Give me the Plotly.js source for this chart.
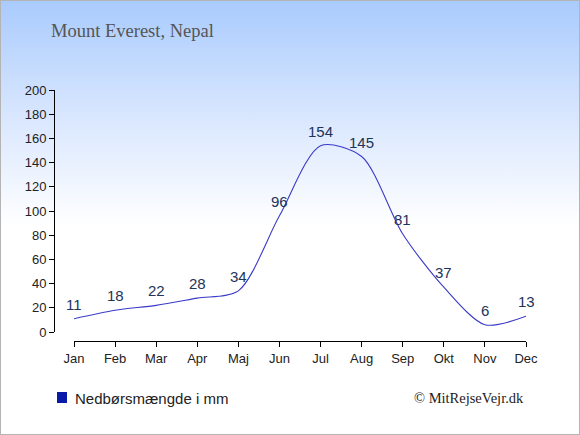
<!DOCTYPE html>
<html>
<head>
<meta charset="utf-8">
<script src="https://cdn.plot.ly/plotly-3.0.1.min.js"></script>
<style>
html,body{margin:0;padding:0;}
#wrap{width:580px;height:435px;box-sizing:border-box;border:1px solid #b4b4b4;
background:linear-gradient(to bottom,#a9cbfd 0%,#d6e5fe 25%,#ffffff 52%,#ffffff 100%);}
#chart{width:578px;height:433px;}
</style>
</head>
<body>
<div id="wrap"><div id="chart"></div></div>
<script>
var months = ["Jan","Feb","Mar","Apr","Maj","Jun","Jul","Aug","Sep","Okt","Nov","Dec"];
var precip = [11,18,22,28,34,96,154,145,81,37,6,13];
var yTicks = [0,20,40,60,80,100,120,140,160,180,200];
var titleText = "Mount Everest, Nepal";
var legendText = "Nedbørsmængde i mm";
var creditText = "© MitRejseVejr.dk";

var idx = months.map(function(m,i){return i;});

var trace = {
  type: "scatter",
  mode: "lines",
  x: idx,
  y: precip,
  line: {color: "#3a3ac8", width: 1.1, shape: "spline", smoothing: 0.8},
  hoverinfo: "none",
  showlegend: false
};

var labelFont = {family: "Liberation Sans, Arial, sans-serif", size: 15, color: "#22335a"};
var valueLabels = precip.map(function(v,i){
  return {
    text: String(v), x: i, y: v, xref: "x", yref: "y",
    xanchor: "center", yanchor: "bottom", yshift: 4,
    showarrow: false, font: labelFont
  };
});

var layout = {
  width: 578, height: 433,
  paper_bgcolor: "rgba(0,0,0,0)",
  plot_bgcolor: "rgba(0,0,0,0)",
  margin: {l: 53, r: 53, t: 89, b: 93},
  showlegend: false,
  title: {
    text: titleText,
    font: {family: "Liberation Serif, Times New Roman, serif", size: 18.5, color: "#555555"},
    x: 50/578, xref: "container", xanchor: "left",
    y: 1 - 30/433, yref: "container", yanchor: "middle"
  },
  xaxis: {
    range: [0, 11],
    domain: [20/472, 1],
    anchor: "free",
    position: 0,
    tickmode: "array",
    tickvals: idx,
    ticktext: months,
    showline: true, linecolor: "#000", linewidth: 1,
    ticks: "outside", ticklen: 5, tickcolor: "#000",
    showgrid: false, zeroline: false,
    tickfont: {family: "Liberation Sans, Arial, sans-serif", size: 13, color: "#222"}
  },
  yaxis: {
    range: [0, 200],
    domain: [9/251, 1],
    anchor: "free",
    position: 0,
    tickmode: "array",
    tickvals: yTicks,
    showline: true, linecolor: "#000", linewidth: 1,
    ticks: "outside", ticklen: 5, tickcolor: "#000",
    showgrid: false, zeroline: false,
    tickfont: {family: "Liberation Sans, Arial, sans-serif", size: 13, color: "#222"}
  },
  shapes: [{
    type: "rect", xref: "paper", yref: "paper",
    x0: 3/472, x1: 13/472, y0: -51/251, y1: -62/251,
    fillcolor: "#0a1aa8", line: {width: 0}
  }],
  annotations: valueLabels.concat([{
    text: legendText, xref: "paper", yref: "paper",
    x: 19/472, y: -57/251, xanchor: "left", yanchor: "middle", showarrow: false,
    font: {family: "Liberation Sans, Arial, sans-serif", size: 15, color: "#222"}
  },{
    text: creditText, xref: "paper", yref: "paper",
    x: 1, y: -57/251, xanchor: "right", yanchor: "middle", showarrow: false,
    font: {family: "Liberation Serif, Times New Roman, serif", size: 14.5, color: "#222"}
  }])
};

Plotly.newPlot("chart", [trace], layout, {staticPlot: true, displayModeBar: false});
</script>
</body>
</html>
